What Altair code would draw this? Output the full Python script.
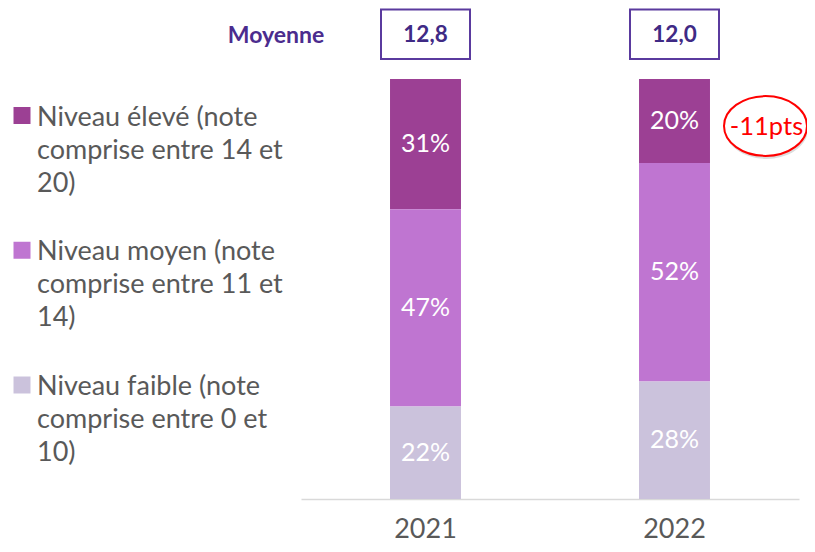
import altair as alt
import pandas as pd

# ---- data ----
annees = ["2021", "2022"]
niveaux = [
    "Niveau élevé (note comprise entre 14 et 20)",
    "Niveau moyen (note comprise entre 11 et 14)",
    "Niveau faible (note comprise entre 0 et 10)",
]
niveaux_legende = [
    "Niveau élevé (note\ncomprise entre 14 et\n20)",
    "Niveau moyen (note\ncomprise entre 11 et\n14)",
    "Niveau faible (note\ncomprise entre 0 et\n10)",
]
eleve = [31, 20]
moyen = [47, 52]
faible = [22, 28]
moyennes = ["12,8", "12,0"]
titre_moyenne = ["Moyenne"]
annotation = ["-11pts"]
couleurs = ["#9C4094", "#BF75D1", "#CBC2DC"]

serie = {niveaux[0]: eleve, niveaux[1]: moyen, niveaux[2]: faible}
rows = []
for i, a in enumerate(annees):
    for k, n in enumerate(niveaux):
        rows.append({"annee": a, "niveau": n, "valeur": serie[n][i],
                     "rang": len(niveaux) - 1 - k})
df = pd.DataFrame(rows)
df_moy = pd.DataFrame({"annee": annees, "moyenne": moyennes})
df_leg = pd.DataFrame({"niveau": niveaux, "texte": niveaux_legende})
df_titre = pd.DataFrame({"t": titre_moyenne})
df_ann = pd.DataFrame({"annee": [annees[1]], "label": annotation,
                       "pos": [100 - eleve[1] / 2]})

FONT = "Lato"
xenc = alt.X(
    "annee:N",
    sort=annees,
    scale=alt.Scale(domain=annees, paddingInner=0.715, paddingOuter=0.3575),
    axis=alt.Axis(title=None, labelFontSize=27, labelColor="#595959",
                  labelFont=FONT, labelAngle=0, domainColor="#D9D9D9",
                  domainWidth=1.5, ticks=False, labelPadding=17, grid=False),
)
yscale = alt.Scale(domain=[0, 100])
color = alt.Color("niveau:N", scale=alt.Scale(domain=niveaux, range=couleurs),
                  legend=None)

stacked = (
    alt.Chart(df)
    .transform_stack(stack="valeur", as_=["v0", "v1"], groupby=["annee"],
                     sort=[alt.SortField("rang", order="ascending")])
    .transform_calculate(mid="(datum.v0 + datum.v1) / 2",
                         pct="datum.valeur + '%'")
)

bars = stacked.mark_bar().encode(
    x=xenc,
    y=alt.Y("v0:Q", scale=yscale, axis=None),
    y2="v1:Q",
    color=color,
)
labels = stacked.mark_text(color="white", fontSize=25, font=FONT).encode(
    x=xenc,
    y=alt.Y("mid:Q", scale=yscale, axis=None),
    text="pct:N",
)

boxes = alt.Chart(df_moy).mark_bar(
    width=89, fill="white", stroke="#5A3A9E", strokeWidth=2
).encode(x=xenc, y=alt.value(-69.5), y2=alt.value(-20))
box_txt = alt.Chart(df_moy).mark_text(
    fontSize=22.5, fontWeight="bold", color="#3F2A85", font=FONT
).encode(x=xenc, y=alt.value(-44), text="moyenne:N")
titre = alt.Chart(df_titre).mark_text(
    fontSize=23, fontWeight="bold", color="#4B2C8E", font=FONT
).encode(x=alt.value(-25), y=alt.value(-43), text="t:N")

ellipse = "M -1 0 A 1 0.72 0 1 1 1 0 A 1 0.72 0 1 1 -1 0 Z"
ann_y = alt.Y("pos:Q", scale=yscale, axis=None)
shadow = alt.Chart(df_ann).mark_point(
    shape=ellipse, size=6889, filled=True, fill="#9E9E9E", opacity=0.35,
    strokeWidth=0, xOffset=92, yOffset=8,
).encode(x=xenc, y=ann_y)
ring = alt.Chart(df_ann).mark_point(
    shape=ellipse, size=6889, filled=True, fill="white", fillOpacity=1,
    stroke="#FF0000", strokeWidth=2, strokeOpacity=1, xOffset=91, yOffset=5,
).encode(x=xenc, y=ann_y)
ann_txt = alt.Chart(df_ann).mark_text(
    color="#FF0000", fontSize=25.5, font=FONT, dx=92, dy=6
).encode(x=xenc, y=ann_y, text="label:N")

leg_y = alt.Y("niveau:N", scale=alt.Scale(domain=niveaux, range=[36.5, 306],
                                          padding=0), axis=None)
leg_sq = alt.Chart(df_leg).mark_square(size=289, filled=True, opacity=1).encode(
    x=alt.value(-279), y=leg_y, color=color
)
leg_txt = alt.Chart(df_leg).mark_text(
    align="left", baseline="top", lineBreak="\n", lineHeight=33,
    fontSize=27, font=FONT, color="#595959", dy=-11,
).encode(x=alt.value(-264), y=leg_y, text="texte:N")

chart = (
    alt.layer(bars, labels, boxes, box_txt, titre, shadow, ring, ann_txt,
              leg_sq, leg_txt)
    .resolve_scale(y="independent")
    .properties(
        width=498, height=420,
        padding={"left": 293, "top": 71, "right": 8, "bottom": 45},
        autosize=alt.AutoSizeParams(type="none"),
    )
    .configure(font=FONT)
    .configure_view(stroke=None)
)

chart.save("out.html", embed_options={"renderer": "svg", "actions": False})
